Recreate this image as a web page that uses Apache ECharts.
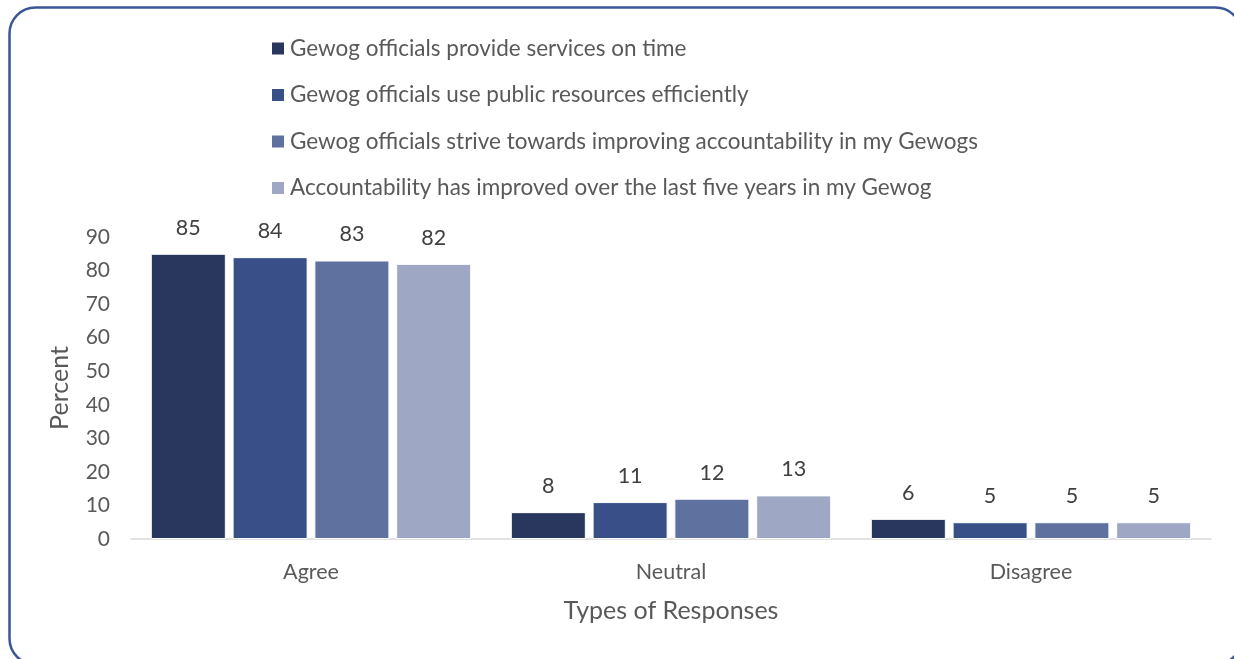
<!DOCTYPE html>
<html>
<head>
<meta charset="utf-8">
<script src="https://cdn.jsdelivr.net/npm/echarts@6/dist/echarts.min.js"></script>
<style>
  html, body { margin: 0; padding: 0; background: #ffffff; }
  #chart { width: 1234px; height: 659px; }
</style>
</head>
<body>
<div id="chart"></div>
<script>
// Survey responses on Gewog accountability (percent)
const categories = ['Agree', 'Neutral', 'Disagree'];
const seriesNames = [
  'Gewog officials provide services on time',
  'Gewog officials use public resources efficiently',
  'Gewog officials strive towards improving accountability in my Gewogs',
  'Accountability has improved over the last five years in my Gewog'
];
const servicesOnTime = [85, 8, 6];
const resourcesEfficient = [84, 11, 5];
const striveAccountability = [83, 12, 5];
const accountabilityImproved = [82, 13, 5];
const yTicks = [0, 10, 20, 30, 40, 50, 60, 70, 80, 90];

const seriesValues = [servicesOnTime, resourcesEfficient, striveAccountability, accountabilityImproved];
const colors = ['#29375e', '#384f87', '#5f719e', '#9ea8c4'];
const textColor = '#595959';
const font = 'Lato, "Open Sans", sans-serif';

const chart = echarts.init(document.getElementById('chart'));

chart.setOption({
  animation: false,
  backgroundColor: '#ffffff',
  textStyle: { fontFamily: font, color: textColor },
  graphic: [{
    type: 'rect',
    left: 7, top: 5,
    shape: { width: 1232, height: 657, r: 26 },
    style: { fill: 'none', stroke: '#3b5597', lineWidth: 2.5 },
    silent: true,
    z: 100
  }],
  legend: {
    orient: 'vertical',
    left: 265,
    top: 32,
    itemWidth: 14,
    itemHeight: 14,
    itemGap: 23.5,
    icon: 'rect',
    textStyle: { fontFamily: font, fontSize: 22.5, color: textColor },
    data: seriesNames
  },
  grid: { left: 131, right: 23, top: 237, bottom: 120, containLabel: false },
  xAxis: {
    type: 'category',
    data: categories,
    name: 'Types of Responses',
    nameLocation: 'middle',
    nameGap: 59,
    nameTextStyle: { fontFamily: font, fontSize: 25, color: textColor },
    axisLine: { lineStyle: { color: '#d9d9d9', width: 1.5 } },
    axisTick: { show: false },
    axisLabel: { fontFamily: font, fontSize: 21.5, color: textColor, margin: 22 }
  },
  yAxis: {
    type: 'value',
    min: yTicks[0],
    max: yTicks[yTicks.length - 1],
    interval: 10,
    name: 'Percent',
    nameLocation: 'middle',
    nameGap: 59,
    nameRotate: 90,
    nameTextStyle: { fontFamily: font, fontSize: 25, color: textColor },
    axisLine: { show: false },
    axisTick: { show: false },
    splitLine: { show: false },
    axisLabel: { fontFamily: font, fontSize: 21, color: textColor, margin: 21 }
  },
  series: seriesNames.map((name, i) => ({
    name: name,
    type: 'bar',
    data: seriesValues[i],
    barGap: '9%',
    barCategoryGap: '11%',
    itemStyle: { color: colors[i], borderColor: '#ffffff', borderWidth: 1 },
    label: {
      show: true,
      position: 'top',
      distance: 15,
      fontFamily: font,
      fontSize: 21.5,
      color: '#404040'
    }
  }))
});
</script>
</body>
</html>
